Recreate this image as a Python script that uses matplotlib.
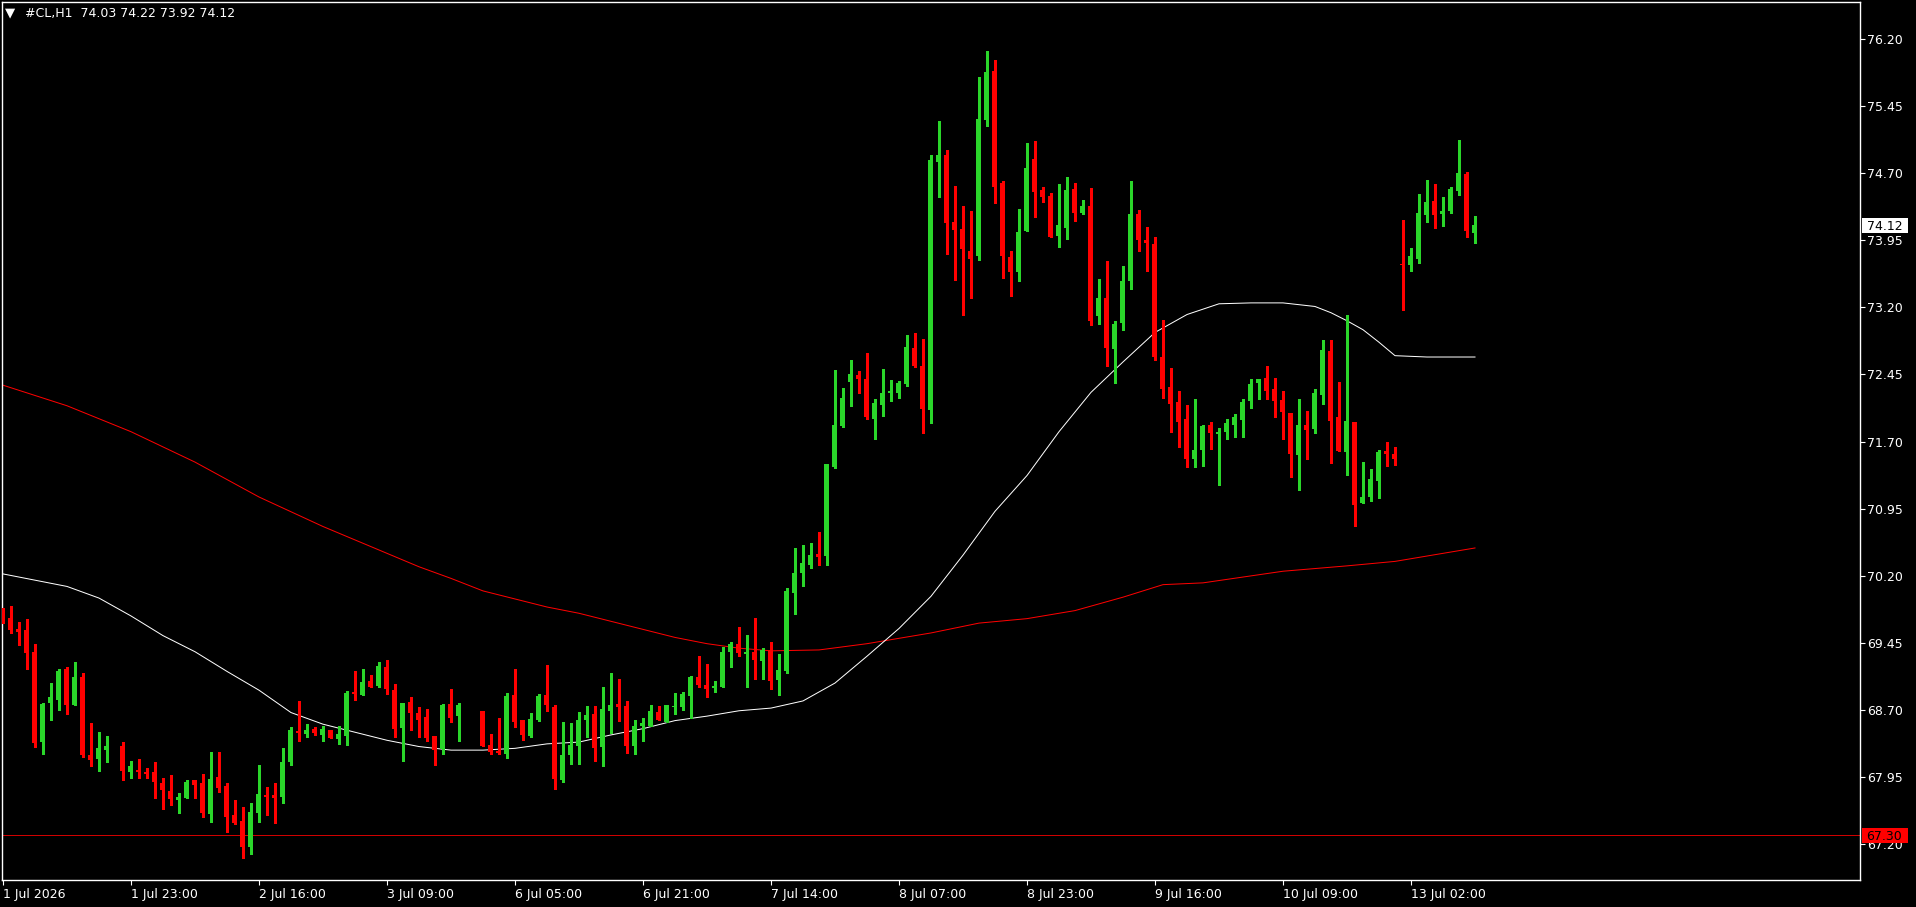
import numpy as np
import matplotlib
matplotlib.use("Agg")
import matplotlib.pyplot as plt
from matplotlib.patches import Rectangle
from matplotlib.transforms import IdentityTransform

W, H = 1916, 907

title = "#CL,H1  74.03 74.22 73.92 74.12"

# hourly OHLC, one entry per bar (None = no candle drawn)
opens = [69.82, 69.73, 69.60, 69.59, 69.35, 68.34, 68.78, 68.81, 69.16, 68.76,
         69.07, 68.19, 68.15, 68.25, None, 68.30, 68.01, 68.03, 68.01, 68.01,
         67.88, 67.79, 67.69, 67.71, 67.92, 67.88, 67.54, 67.95, 67.85, 67.53,
         67.46, 67.17, 67.55, 67.75, 67.75, 67.73, 68.12, 68.46, 68.43, 68.49,
         68.42, 68.48, 68.37, 68.41, 68.90, 68.87, 69.02, 68.97, 69.18, 68.92,
         68.50, 68.79, 68.67, 68.62, 68.41, 68.26, 68.77, 68.63, None, None,
         68.69, 68.31, 68.24, 68.21, 68.87, 68.59, 68.41, 68.59, 68.87, 68.73,
         67.92, 68.20, 68.30, 68.59, 68.65, 68.28, 68.69, 68.77, 68.74, 68.30,
         68.52, 68.52, 68.68, 68.57, 68.73, 68.73, 68.86, 69.07, 68.98, 68.94,
         68.96, 69.35, 69.44, 69.33, 69.35, 69.25, 69.37, 69.03, 69.13, 70.01,
         70.23, 70.32, 70.44, 70.42, 71.41, 71.87, 72.37, 72.44, 72.40, 71.95,
         72.11, 72.24, 72.24, 72.34, 72.75, 72.55, 72.05, 74.82, 74.90, 74.15,
         74.08, 73.83, 73.77, 75.29, 75.84, 74.59, 73.76, 73.60, 74.05, 74.86,
         74.51, 74.45, 74.00, 74.09, 74.52, 74.26, 74.33, 73.10, 73.30, 72.74,
         73.02, 73.50, 74.24, 73.95, 73.91, 72.65, 72.31, 72.14, 71.95, 71.51,
         71.61, 71.89, 71.78, 71.81, 71.88, 71.94, 72.15, 72.35, 72.41, 72.29,
         72.16, 72.02, 71.55, 71.89, 71.84, 72.22, 72.71, 71.97, 71.58, 71.92,
         71.01, 71.08, 71.26, 71.59, 71.56, 73.69, 73.67, 73.74, 74.23, 74.39,
         74.24, 74.28, 74.50, 74.69, 74.03]
highs = [69.84, 69.86, 69.68, 69.72, 69.44, 68.78, 69.00, 69.16, 69.18, 69.24,
         69.11, 68.55, 68.45, 68.41, None, 68.34, 68.13, 68.15, 68.05, 68.12,
         67.94, 67.97, 67.77, 67.92, 67.92, 67.98, 68.23, 68.23, 67.88, 67.69,
         67.61, 67.66, 68.08, 67.84, 67.88, 68.27, 68.51, 68.80, 68.54, 68.51,
         68.52, 68.48, 68.52, 68.91, 69.14, 69.16, 69.09, 69.24, 69.26, 68.99,
         68.78, 68.84, 68.73, 68.71, 68.41, 68.77, 68.93, 68.78, None, None,
         68.69, 68.43, 68.61, 68.89, 69.16, 68.59, 68.67, 68.88, 69.20, 68.76,
         68.57, 68.55, 68.68, 68.74, 68.74, 68.96, 69.11, 69.04, 68.80, 68.59,
         68.61, 68.76, 68.74, 68.76, 68.89, 68.90, 69.08, 69.30, 69.21, 69.02,
         69.40, 69.46, 69.63, 69.54, 69.73, 69.39, 69.46, 69.33, 70.06, 70.51,
         70.54, 70.57, 70.69, 71.45, 72.50, 72.30, 72.61, 72.49, 72.69, 72.17,
         72.51, 72.39, 72.38, 72.89, 72.91, 72.85, 74.90, 75.28, 74.96, 74.56,
         74.33, 74.28, 75.78, 76.07, 75.97, 74.61, 73.83, 74.30, 75.04, 75.06,
         74.55, 74.48, 74.58, 74.66, 74.59, 74.40, 74.53, 73.52, 73.72, 73.05,
         73.66, 74.61, 74.29, 74.10, 73.99, 73.06, 72.52, 72.27, 72.11, 72.18,
         71.89, 71.92, 71.85, 71.95, 72.01, 72.18, 72.40, 72.40, 72.54, 72.41,
         72.27, 72.02, 72.18, 72.04, 72.29, 72.84, 72.84, 72.37, 73.12, 71.92,
         71.47, 71.39, 71.61, 71.70, 71.64, 74.18, 73.86, 74.47, 74.62, 74.58,
         74.43, 74.55, 75.07, 74.71, 74.22]
lows = [69.67, 69.56, 69.43, 69.16, 68.29, 68.21, 68.59, 68.70, 68.65, 68.75,
        68.17, 68.07, 68.02, 68.12, None, 67.92, 67.94, 67.94, 67.94, 67.72,
        67.59, 67.64, 67.55, 67.71, 67.71, 67.50, 67.45, 67.78, 67.33, 67.42,
        67.04, 67.09, 67.45, 67.52, 67.43, 67.66, 68.08, 68.35, 68.40, 68.42,
        68.35, 68.38, 68.32, 68.31, 68.81, 68.87, 68.96, 68.96, 68.88, 68.40,
        68.13, 68.48, 68.40, 68.35, 68.08, 68.21, 68.57, 68.35, None, None,
        68.30, 68.21, 68.21, 68.16, 68.51, 68.36, 68.40, 68.58, 68.69, 67.82,
        67.89, 68.10, 68.09, 68.40, 68.13, 68.07, 68.44, 68.58, 68.22, 68.21,
        68.35, 68.52, 68.59, 68.57, 68.65, 68.70, 68.61, 68.96, 68.84, 68.90,
        68.96, 69.18, 69.30, 68.96, 69.05, 69.05, 68.93, 68.87, 69.11, 69.77,
        70.08, 70.29, 70.32, 70.32, 71.40, 71.86, 72.10, 72.24, 71.95, 71.73,
        71.99, 72.15, 72.19, 72.32, 72.53, 71.80, 71.91, 74.43, 73.80, 73.51,
        73.12, 73.31, 73.73, 75.23, 74.37, 73.53, 73.33, 73.49, 74.05, 74.21,
        74.38, 73.99, 73.87, 73.96, 74.17, 74.24, 73.00, 73.01, 72.54, 72.36,
        72.95, 73.40, 73.83, 73.61, 72.61, 72.19, 71.81, 71.64, 71.41, 71.42,
        71.43, 71.62, 71.21, 71.73, 71.75, 71.75, 72.07, 72.17, 72.17, 71.97,
        71.73, 71.30, 71.16, 71.51, 71.79, 72.12, 71.46, 71.59, 71.33, 70.76,
        71.01, 71.04, 71.07, 71.43, 71.44, 73.17, 73.61, 73.70, 74.15, 74.09,
        74.11, 74.26, 74.46, 73.99, 73.92]
closes = [69.71, 69.59, 69.57, 69.34, 68.33, 68.77, 68.84, 69.14, 68.75, 69.07,
          68.19, 68.14, 68.27, 68.30, None, 68.02, 68.07, 68.01, 67.98, 67.89,
          67.80, 67.70, 67.73, 67.89, 67.86, 67.55, 67.93, 67.83, 67.50, 67.44,
          67.17, 67.56, 67.76, 67.73, 67.72, 68.12, 68.48, 68.44, 68.48, 68.44,
          68.49, 68.38, 68.43, 68.89, 68.88, 69.01, 68.96, 69.19, 68.93, 68.49,
          68.78, 68.67, 68.59, 68.39, 68.25, 68.76, 68.61, 68.76, None, None,
          68.30, 68.23, 68.22, 68.86, 68.57, 68.42, 68.60, 68.86, 68.75, 67.93,
          68.20, 68.31, 68.59, 68.64, 68.27, 68.71, 68.76, 68.73, 68.30, 68.52,
          68.55, 68.69, 68.59, 68.76, 68.74, 68.88, 69.07, 68.98, 68.93, 68.97,
          69.35, 69.44, 69.34, 69.35, 69.26, 69.37, 69.02, 69.15, 70.03, 70.23,
          70.34, 70.43, 70.41, 71.45, 71.89, 72.19, 72.46, 72.40, 71.97, 72.13,
          72.24, 72.27, 72.36, 72.76, 72.55, 72.06, 74.85, 74.90, 74.14, 74.06,
          73.85, 73.74, 75.31, 75.83, 74.55, 73.77, 73.59, 74.04, 74.76, 74.49,
          74.43, 73.99, 74.12, 74.51, 74.25, 74.33, 73.05, 73.30, 72.75, 73.01,
          73.49, 74.24, 73.95, 73.92, 72.65, 72.29, 72.12, 71.92, 71.51, 71.61,
          71.87, 71.80, 71.81, 71.91, 71.97, 72.14, 72.34, 72.40, 72.27, 72.15,
          72.03, 71.56, 71.89, 71.83, 72.24, 72.72, 71.93, 71.59, 71.93, 70.99,
          71.08, 71.28, 71.58, 71.56, 71.51, 73.67, 73.77, 74.26, 74.38, 74.23,
          74.28, 74.52, 74.70, 74.05, 74.12]

# moving averages (bar index, value)
ma_fast_bars = [0, 4, 8, 12, 16, 20, 24, 28, 32, 36, 40, 44, 48, 52, 56, 60, 64,
                68, 72, 76, 80, 84, 88, 92, 96, 100, 104, 108, 112, 116, 120, 124,
                128, 132, 136, 140, 144, 148, 152, 156, 160, 164, 166, 168, 170,
                172, 174, 178, 184]
ma_fast = [70.22, 70.15, 70.08, 69.95, 69.75, 69.53, 69.35, 69.13, 68.92, 68.67,
           68.54, 68.45, 68.36, 68.29, 68.25, 68.25, 68.27, 68.32, 68.34, 68.42,
           68.49, 68.58, 68.63, 68.69, 68.72, 68.80, 69.00, 69.30, 69.61, 69.97,
           70.43, 70.92, 71.32, 71.81, 72.25, 72.59, 72.92, 73.12, 73.24, 73.25,
           73.25, 73.21, 73.14, 73.05, 72.95, 72.81, 72.66, 72.645, 72.645]
ma_slow_bars = [0, 8, 16, 24, 32, 40, 48, 52, 56, 60, 64, 68, 72, 76, 80, 84, 88,
                92, 96, 102, 108, 116, 122, 128, 134, 140, 145, 150, 160, 168,
                174, 180, 184]
ma_slow = [72.33, 72.10, 71.81, 71.47, 71.08, 70.75, 70.45, 70.30, 70.17, 70.03,
           69.94, 69.85, 69.78, 69.69, 69.60, 69.51, 69.44, 69.39, 69.36, 69.37,
           69.44, 69.56, 69.67, 69.72, 69.81, 69.96, 70.10, 70.12, 70.25, 70.31,
           70.36, 70.45, 70.51]

xtick_labels = ["1 Jul 2026", "1 Jul 23:00", "2 Jul 16:00", "3 Jul 09:00",
                "6 Jul 05:00", "6 Jul 21:00", "7 Jul 14:00", "8 Jul 07:00",
                "8 Jul 23:00", "9 Jul 16:00", "10 Jul 09:00", "13 Jul 02:00"]
ytick_vals = [67.20, 67.95, 68.70, 69.45, 70.20, 70.95, 71.70, 72.45, 73.20,
              73.95, 74.70, 75.45, 76.20]
last_price = 74.12
alert_price = 67.30

BULL = "#2ad62a"
BEAR = "#ff0000"
PX = 0.72  # one pixel in points at 100 dpi

plt.rcParams["font.family"] = ["DejaVu Sans"]

fig = plt.figure(figsize=(W / 100, H / 100), dpi=100, facecolor="black")
ax = fig.add_axes([2 / W, (H - 880) / H, (1860 - 2) / W, (880 - 2) / H])
ax.set_facecolor("black")

o = np.array([np.nan if v is None else v for v in opens])
h = np.array([np.nan if v is None else v for v in highs])
l = np.array([np.nan if v is None else v for v in lows])
c = np.array([np.nan if v is None else v for v in closes])
x = np.arange(len(o))
ok = ~np.isnan(o)
up = ok & (c >= o)
dn = ok & (c < o)

ax.set_xlim(-0.125, 232.125)
ax.set_ylim(66.798, 76.614)

# horizontal alert line
ax.axhline(alert_price, color="#d00000", lw=PX, antialiased=False, zorder=1)

# moving averages
ax.plot(ma_slow_bars, ma_slow, color="#ff0000", lw=PX, zorder=2)
ax.plot(ma_fast_bars, ma_fast, color="white", lw=PX, zorder=2)

# candles: wicks then bodies
for mask, col in ((up, BULL), (dn, BEAR)):
    ax.vlines(x[mask], l[mask], h[mask], color=col, lw=PX * 1.1,
              antialiased=False, zorder=3)
    body_lo = np.minimum(o[mask], c[mask])
    body_h = np.maximum(np.abs(c[mask] - o[mask]), 0.012)
    ax.bar(x[mask], body_h, bottom=body_lo, width=0.625, color=col,
           edgecolor="none", antialiased=False, zorder=4)

# axes styling
for s in ax.spines.values():
    s.set_color("white")
    s.set_linewidth(1)
ax.yaxis.tick_right()
ax.set_yticks(ytick_vals)
ax.set_yticklabels([f"{v:.2f}" for v in ytick_vals])
ax.set_xticks(np.arange(len(xtick_labels)) * 16)
ax.set_xticklabels(xtick_labels, ha="left")
ax.tick_params(axis="y", colors="white", length=3.5, width=0.8, pad=1.5,
               labelsize=9)
ax.tick_params(axis="x", colors="white", length=3.5, width=0.8, pad=2,
               labelsize=9)

# price tags on the right scale
def price_tag(price, face, text_col):
    _, ypix = ax.transData.transform((0, price))
    fig.add_artist(Rectangle((1862, ypix - 7.5), 46, 15, transform=IdentityTransform(),
                             facecolor=face, edgecolor="none", zorder=5))
    fig.text(1866.5 / W, ypix / H, f"{price:.2f}", color=text_col, fontsize=9,
             va="center_baseline", ha="left", zorder=6)

price_tag(last_price, "white", "black")
price_tag(alert_price, "#ff0000", "black")

# header
fig.text(5 / W, 1 - 13 / H, "\u25bc", color="white", fontsize=9.5, va="center", ha="left")
fig.text(25 / W, 1 - 14 / H, title, color="white", fontsize=9, va="center", ha="left")

fig.savefig("out.png", dpi=100, facecolor="black")
